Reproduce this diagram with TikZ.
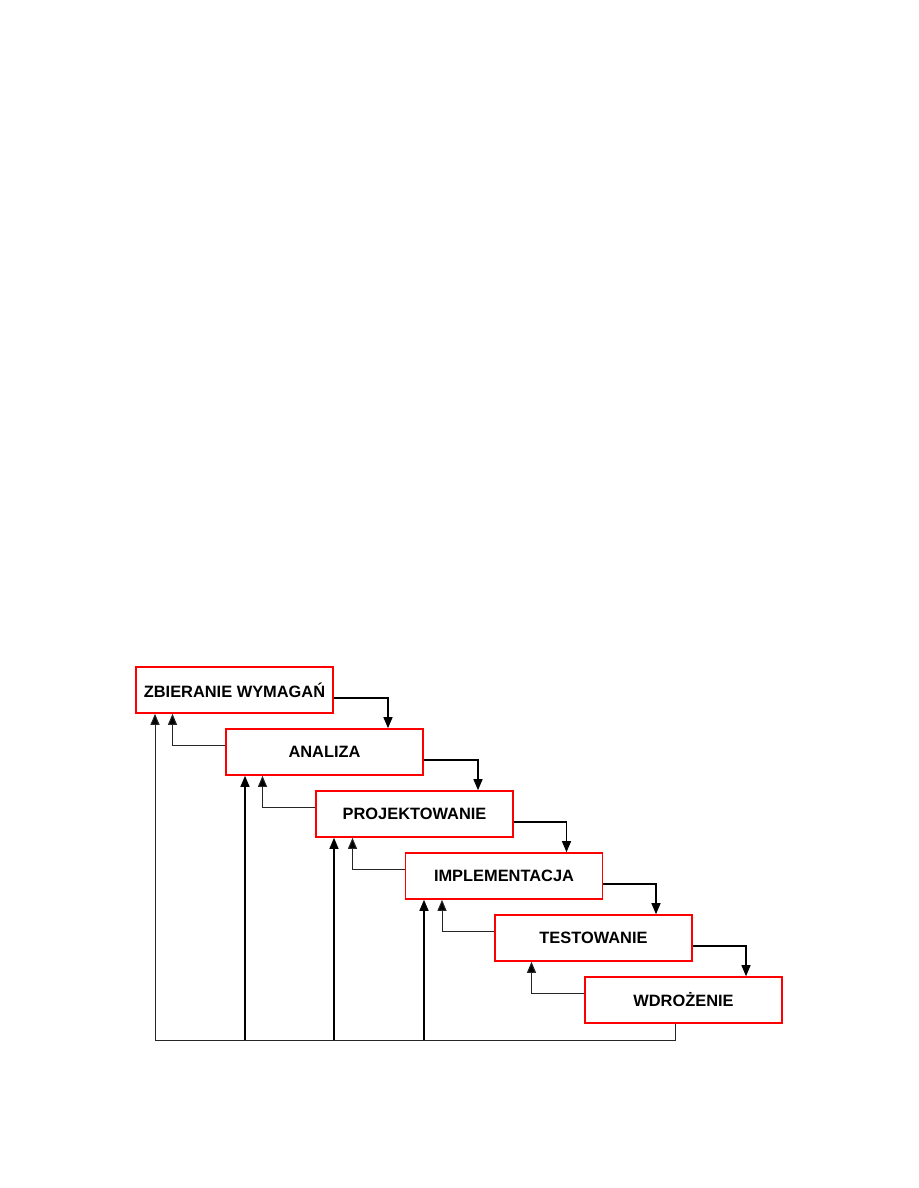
\documentclass[tikz,border=0pt]{standalone}
\usepackage{fontspec}
\setmainfont{Liberation Sans}
\usetikzlibrary{arrows.meta}
\begin{document}
\begin{tikzpicture}[x=1pt,y=-1pt,
  phase/.style={draw=red,line width=1.6pt,fill=white,minimum width=197pt,minimum height=46pt,
    inner sep=0pt,font=\bfseries\fontsize{16.4}{19}\selectfont},
  fwd/.style={draw=black,line width=1.2pt,-{Triangle[length=11pt,width=9pt]}},
  back/.style={draw=black!85,line width=1pt,-{Triangle[length=11pt,width=9pt,fill=black]}},
  base/.style={draw=black!85,line width=1pt},
  up/.style={draw=black,line width=1.4pt,-{Triangle[length=11pt,width=9pt]}}]
\path[use as bounding box] (0,0) rectangle (918,1188);
\node[phase] (Z) at (234.5,690) {ZBIERANIE WYMAGAŃ};
\node[phase] (A) at (324.5,752) {ANALIZA};
\node[phase] (P) at (414.5,814) {PROJEKTOWANIE};
\node[phase] (I) at (504,876) {IMPLEMENTACJA};
\node[phase] (T) at (593.5,938) {TESTOWANIE};
\node[phase] (W) at (683.5,1000) {WDROŻENIE};
% forward
\draw[fwd] ([yshift=-8pt]Z.east) -| ([xshift=63.5pt]A.north);
\draw[fwd] ([yshift=-8pt]A.east) -| ([xshift=63.5pt]P.north);
\draw[fwd] ([yshift=-8pt]P.east) -| ([xshift=62.5pt]I.north);
\draw[fwd] ([yshift=-8pt]I.east) -| ([xshift=62.5pt]T.north);
\draw[fwd] ([yshift=-8pt]T.east) -| ([xshift=62.5pt]W.north);
% back
\draw[back] ([yshift=7pt]A.west) -| ([xshift=-62pt]Z.south);
\draw[back] ([yshift=7pt]P.west) -| ([xshift=-62pt]A.south);
\draw[back] ([yshift=7pt]I.west) -| ([xshift=-62pt]P.south);
\draw[back] ([yshift=7pt]T.west) -| ([xshift=-62pt]I.south);
\draw[back] ([yshift=7pt]W.west) -| ([xshift=-62pt]T.south);
% bottom return
\coordinate (b0) at (155,1040);
\coordinate (b1) at (245,1040);
\coordinate (b2) at (334,1040);
\coordinate (b3) at (424,1040);
\draw[base] ([xshift=-8.5pt]W.south) |- (b0);
\draw[back] (b0) -- (b0 |- Z.south);
\draw[up] (b1) -- (b1 |- A.south);
\draw[up] (b2) -- (b2 |- P.south);
\draw[up] (b3) -- (b3 |- I.south);
\end{tikzpicture}
\end{document}
